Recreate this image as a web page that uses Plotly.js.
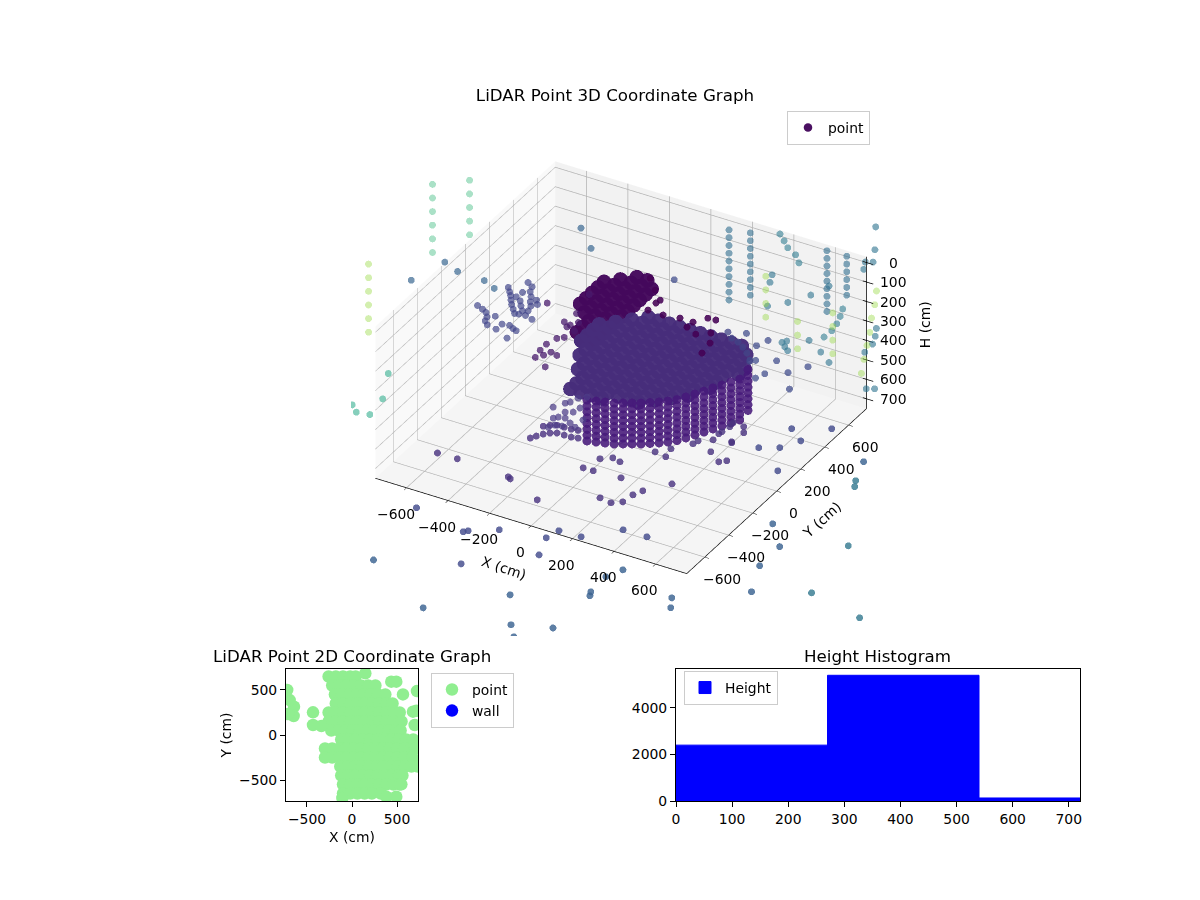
<!DOCTYPE html>
<html>
<head>
<meta charset="utf-8">
<script src="https://cdn.plot.ly/plotly-3.0.1.min.js"></script>
<style>body{margin:0;background:#fff}</style>
</head>
<body>
<div id="chart" style="width:1200px;height:900px"></div>
<script>
// ---- 3D points as [x, y, h] in cm ----
var floorPurple = [[-588,-514,700],[-493,-512,700],[-238,-529,700],[-223,-538,700],[-43,-625,700],[-3,-311,700],[45,-310,700],[22,-214,700],[65,-181,700],[176,-480,700],[235,-491,700],[173,-300,700],[106,-193,700],[274,-460,700],[283,-391,700],[303,-343,700],[381,-235,700],[252,-63,700],[194,-52,700],[239,2,700],[395,65,700],[463,13,700],[488,37,700],[431,176,700],[356,151,700],[306,113,700],[299,82,700],[356,225,700],[353,204,700],[439,263,700],[435,170,700],[415,304,700],[365,275,700],[361,309,700]];
var floorIndigo = [[-448,-931,700],[-185,-997,700],[-171,-980,700],[-62,-908,700],[139,-865,700],[157,-790,700],[261,-785,700],[180,-996,700],[-66,-1220,700],[385,-650,700],[499,-648,700],[552,193,700],[628,237,700],[712,75,700],[596,391,700],[677,327,700],[741,474,700]];
var floorBlue = [[-398,-1376,700],[233,-1329,700],[-30,-1599,700],[354,-1531,700],[518,-1465,700],[412,-1607,700],[513,-1140,700],[525,-1169,700],[508,-1006,700],[542,-923,700],[902,-297,700],[1017,-438,700],[1020,-610,700],[1093,-804,700],[829,-1012,700],[864,-1082,700],[986,316,700]];
var floorTeal = [[1314,-686,700],[1262,-289,700],[1586,-756,700],[1032,170,700],[1052,127,700]];
var leftCluster = [[-763,124,360],[-731,109,360],[-705,94,360],[-684,66,360],[-675,35,360],[-652,12,360],[-657,88,360],[-601,48,360],[-569,55,360],[-544,41,360],[-524,32,360],[-528,-37,360],[-603,1,360],[-723,311,360],[-701,284,360],[-683,261,360],[-663,230,360],[-644,202,360],[-620,173,360],[-598,147,360],[-580,151,360],[-652,307,360],[-657,264,360],[-627,244,360],[-605,212,360],[-580,181,360],[-551,156,360],[-559,192,360],[-512,143,360],[-671,386,360],[-640,365,360],[-626,327,360],[-604,295,360],[-587,259,360],[-568,231,360],[-571,283,360],[-551,256,360]];
var leftBlue = [[-837,308,360],[-770,275,360],[-1102,158,360],[-1052,351,360],[-969,314,360],[-694,867,360],[-578,750,360]];
var leftTeal = [[-818,-526,360],[-738,-711,360],[-825,-815,360],[-781,-856,360],[-723,-844,360]];
var purpleCluster = [[-350,-109,360],[-361,-50,360],[-329,-77,360],[-362,4,360],[-314,-41,360],[-280,-51,360],[-277,-153,360],[-347,65,360],[-324,87,360],[-356,165,360],[-385,193,360],[-351,184,360],[-312,152,360],[-374,276,360],[-332,219,360],[-403,432,360],[-521,286,360]];
var rightPurple = [[-154,710,360],[318,495,360],[424,492,360],[403,432,360],[535,371,360],[672,396,360],[623,314,360],[543,258,360],[527,209,360],[693,205,360],[437,318,360],[458,330,360]];
var topDark = [[-128,513,360],[-55,446,360],[18,460,360],[81,460,360],[119,518,360],[155,522,360],[79,414,360],[138,384,360],[188,423,360],[225,353,360],[235,268,360],[-247,670,360],[-182,599,360],[-124,541,360],[-129,448,360]];
var coreEdge = [[246,465,360],[284,432,360],[322,418,360],[359,394,360],[397,362,360],[439,313,360]];
var steelBlue = [[346,792,360],[400,890,360],[430,990,360],[482,508,360],[494,527,360],[509,484,360],[535,463,360],[572,578,360],[660,523,360],[731,469,360],[180,948,360],[202,892,360],[287,725,360],[820,613,360],[816,685,360],[795,744,360],[768,800,360],[969,367,360],[999,385,360],[467,1229,360],[490,1176,360],[495,1245,360],[453,1333,360],[366,1490,360]];
var slantColumnC = [[48,1242,360],[90,1204,360],[130,1165,360],[186,1133,360],[230,1085,360],[570,862,360],[590,806,360],[607,749,360],[616,691,360],[613,632,360]];
var limeSlant = [[621,1055,360],[669,958,360],[710,860,360],[760,759,360],[801,665,360],[845,563,360],[891,462,360]];
var ribbonTip = [[-204,-404,560],[-190,-378,560],[-173,-350,560],[-152,-329,560],[-127,-314,560],[-93,-313,560],[-60,-312,560],[-31,-305,560],[-173,-350,520],[-152,-329,520],[-127,-314,520],[-93,-313,520],[-60,-312,520],[-31,-305,520]];
var looseUnderCore = [[-90,-411,360],[-62,-359,360],[-48,-341,360],[-35,-298,360],[-7,-272,360],[-27,-420,360],[2,-403,360],[11,-361,360],[-32,-468,360],[-3,-461,360],[-46,-486,360],[-29,-558,360],[-12,-530,360],[17,-522,360],[68,-502,360],[34,-484,360],[69,-437,360]];

// vertical scan columns: one x, y position and its heights
var blueColumnX = [47, 136, 483, 576];
var blueColumnY = [819, 843, 881, 885];
var blueColumnH = [
  [100,140,180,220,260,300,340,380,420,460],
  [100,140,180,220,260,300,340,380,420],
  [100,139,178,217,256,295,334,373,412],
  [100,140,180,220,260,300]
];
var mintColumnX = [-1127, -1009];
var mintColumnY = [378, 483];
var mintColumnH = [[0,70,140,210,280,350],[0,70,140,210,280]];
var paleColumnX = [-1044, 439, 732, 825];
var paleColumnY = [-299, 447, 205, 337];
var paleColumnH = [[0,70,140,210,280,350],[0,70,140,210],[0,70,140],[0,70,140,210]];

// the ring seen at the front of the main mass
var ribbonX = [-3,34,70,107,139,171,204,234,265,293,320,342,363,384,404,425,446,466,458];
var ribbonY = [-279,-267,-255,-243,-224,-205,-187,-164,-142,-117,-88,-52,-13,26,66,105,144,183,265];
var ribbonH = [580,550,520,490,460,430,400,370];

// main mass at h = 360: y of a row, then the x values of that row
var coreRowY = [400,350,300,250,200,150,100,50,0,-50,-100,-150,-200,-250];
var coreRowX = [
  [-100,-50,0,50,100,150,200,250,300,350],
  [-150,-100,-50,0,50,100,150,200,250,300,350,400],
  [-200,-150,-100,-50,0,50,100,150,200,250,300,350,400],
  [-250,-200,-150,-100,-50,0,50,100,150,200,250,300,350,400,450],
  [-250,-200,-150,-100,-50,0,50,100,150,200,250,300,350,400,450],
  [-250,-200,-150,-100,-50,0,50,100,150,200,250,300,350,400],
  [-250,-200,-150,-100,-50,0,50,100,150,200,250,300,350,400],
  [-200,-150,-100,-50,0,50,100,150,200,250,300,350,400],
  [-200,-150,-100,-50,0,50,100,150,200,250,300,350],
  [-150,-100,-50,0,50,100,150,200,250,300,350],
  [-150,-100,-50,0,50,100,150,200,250,300],
  [-100,-50,0,50,100,150,200,250],
  [-100,-50,0,50,100,150,200],
  [-100,-50,0,50]
];
var darkRowY = [100,150,200,250,300,350,400,450,500,550,600,650];
var darkRowX = [
  [-250,-200],
  [-300,-250,-200],
  [-300,-250,-200],
  [-300,-250,-200],
  [-350,-300,-250,-200],
  [-400,-350,-300,-250,-200],
  [-400,-350,-300,-250,-200],
  [-400,-350,-300,-250,-200],
  [-400,-350,-300,-250,-200],
  [-400,-350,-300,-250,-200],
  [-350,-300,-250,-200],
  [-300,-250]
];
var coreHeight = 360;

// ---- 2D panel ----
var flatRowY = [650,550,450,350,250,150,50,-50,-150,-250,-350,-450,-550,-650];
var flatRowX = [
  [-260,-180,-100,-20,40],
  [-220,-140,-60,20,100,180,260],
  [-190,-110,-30,50,130,210,290,370],
  [-180,-100,-20,60,140,220,300,380,450],
  [-260,-180,-100,-20,60,140,220,300,380,460,530],
  [-260,-180,-100,-20,60,140,220,300,380,460,550],
  [-230,-150,-70,10,90,170,250,330,410,490,540],
  [-120,-40,40,120,200,280,360,440,520,600,680],
  [-300,-220,-140,-60,20,100,180,260,340,420,500,580,660,700],
  [-300,-220,-140,-60,20,100,180,260,340,420,500,580,670],
  [-130,-50,30,110,190,270,350,430,510,590,660,730],
  [-120,-40,40,120,200,280,360,440,520,560],
  [-100,-20,60,140,220,300,380,460,530],
  [-100,-20,60,140,220,320]
];
var flatLooseX = [148,-107,381,492,436,492,566,721,677,714,696,548,-433,-433,-340,-644,-692,-720,-648,-710];
var flatLooseY = [685,-700,-685,-685,592,592,451,488,259,270,111,-548,252,111,100,315,388,500,211,233];

// ---- histogram ----
var binStart = [0, 270, 540];
var binWidth = [270, 270, 270];
var binCount = [2400, 5400, 130];

var xyTicks = [-600,-400,-200,0,200,400,600];
var hTicks = [0,100,200,300,400,500,600,700];

var FS = 13.9;
var eye = {x:0.424*2, y:-0.734*2, z:0.53*2};
var cam = {eye:eye, up:{x:0,y:0,z:1}, center:{x:0,y:0,z:0}, projection:{type:'orthographic'}};

function boxAxis(range, dtick, bg, isH){
  return {title:{text:''}, range:range, dtick:dtick, showspikes:false, showticklabels:false,
    showbackground:true, backgroundcolor:bg, gridcolor:'#b2b2b2', gridwidth:1.5, zeroline:false,
    showline:!isH, linecolor:'#000', linewidth:1.5, ticks:isH?'':'outside', ticklen:5, tickcolor:'#000'};
}
function hidden(range){ return {range:range, visible:false, showspikes:false}; }

function cloud(points, color, size, opacity){
  return {type:'scatter3d', scene:'scene2', mode:'markers', name:'point', legendgroup:'point', showlegend:false, hoverinfo:'skip',
    x:points.map(function(p){return p[0];}), y:points.map(function(p){return p[1];}), z:points.map(function(p){return p[2];}),
    marker:{size:size, color:color, opacity:opacity, line:{width:0}}};
}
function fromColumns(cx, cy, ch){
  var out = [];
  cx.forEach(function(v,i){ ch[i].forEach(function(h){ out.push([v, cy[i], h]); }); });
  return out;
}
function fromRows(rowY, rowX, h){
  var out = [];
  rowY.forEach(function(v,i){ rowX[i].forEach(function(x){ out.push([x, v, h]); }); });
  return out;
}
function ribbonPoints(){
  var out = [];
  ribbonX.forEach(function(v,i){ ribbonH.forEach(function(h){ out.push([v, ribbonY[i], h]); }); });
  return out;
}

var dark = cloud(fromRows(darkRowY, darkRowX, coreHeight), '#44085c', 8.5, 0.97);
dark.showlegend = true;
dark.legend = 'legend';

var zLineX = [750,750], zLineY = [750,750], zLineH = [-30,750];
hTicks.forEach(function(h){ zLineX.push(null,732,782); zLineY.push(null,750,750); zLineH.push(null,h,h); });

var flatX = [], flatY = [];
flatRowY.forEach(function(v,i){ flatRowX[i].forEach(function(x){ flatX.push(x); flatY.push(v); }); });
flatX = flatX.concat(flatLooseX); flatY = flatY.concat(flatLooseY);

var data = [
  {type:'scatter3d', scene:'scene', x:[0], y:[0], z:[360], mode:'markers', showlegend:false, hoverinfo:'skip', marker:{size:1,opacity:0}},
  {type:'scatter3d', scene:'scene2', x:zLineX, y:zLineY, z:zLineH, mode:'lines', showlegend:false, hoverinfo:'skip', line:{color:'#000',width:1.5}, connectgaps:false},
  dark,
  cloud(fromRows(coreRowY, coreRowX, coreHeight), '#472d7b', 8.5, 0.97),
  cloud(ribbonPoints(), '#46197a', 5.2, 0.88),
  cloud(ribbonTip, '#48307f', 4, 0.8),
  cloud(looseUnderCore, '#4d3d88', 4, 0.72),
  cloud(floorPurple, '#47317e', 4, 0.8),
  cloud(floorIndigo, '#434b8c', 4, 0.82),
  cloud(floorBlue, '#3b6391', 4, 0.82),
  cloud(floorTeal, '#32788e', 4, 0.8),
  cloud(leftCluster, '#3f4389', 4, 0.68),
  cloud(leftBlue, '#33638d', 4, 0.68),
  cloud(leftTeal, '#22a884', 4, 0.55),
  cloud(purpleCluster, '#481a6c', 4, 0.75),
  cloud(rightPurple, '#3d4a89', 4, 0.72),
  cloud(topDark, '#440154', 4, 0.88),
  cloud(coreEdge, '#414487', 4, 0.75),
  cloud(steelBlue, '#2c728e', 4, 0.6),
  cloud(slantColumnC, '#2a788e', 4, 0.58),
  cloud(limeSlant, '#95d840', 4, 0.42),
  cloud(fromColumns(blueColumnX, blueColumnY, blueColumnH), '#2f6c8e', 4, 0.6),
  cloud(fromColumns(mintColumnX, mintColumnY, mintColumnH), '#35b779', 4, 0.42),
  cloud(fromColumns(paleColumnX, paleColumnY, paleColumnH), '#95d840', 4, 0.42),
  {type:'scatter', xaxis:'x', yaxis:'y', x:flatX, y:flatY, mode:'markers', name:'point', legend:'legend2', cliponaxis:true, hoverinfo:'skip',
    marker:{color:'lightgreen', size:12.5, line:{width:0}}},
  {type:'scatter', xaxis:'x', yaxis:'y', x:[null], y:[null], mode:'markers', name:'wall', legend:'legend2',
    marker:{color:'blue', size:12.5, line:{width:0}}},
  {type:'bar', xaxis:'x2', yaxis:'y2', x:binStart, y:binCount, width:binWidth, offset:0, name:'Height', legend:'legend3', hoverinfo:'skip',
    marker:{color:'blue', line:{width:1,color:'blue'}}}
];

var labels = [];
function label(x, y, z, text, xs, ys, angle){
  labels.push({x:x, y:y, z:z, text:text, showarrow:false, xshift:xs, yshift:ys, textangle:angle||0,
    xanchor:'center', yanchor:'middle', font:{size:FS, color:'#000', family:'DejaVu Sans'}});
}
function minusText(v){ return v < 0 ? '\u2212' + (-v) : String(v); }
xyTicks.forEach(function(t){ label(t, -750, 750, minusText(t), -11, -26); });
xyTicks.forEach(function(t){ label(750, t, 750, minusText(t), 17, -22); });
hTicks.forEach(function(t){ label(750, 750, t, String(t), 27, 0); });
label(0, -750, 750, 'X (cm)', -27, -42, 18);
label(750, 0, 750, 'Y (cm)', 45, -29, -42);
label(750, 750, 360, 'H (cm)', 58, 8, -90);

function flatAxis(extra){
  var a = {mirror:true, showline:true, linecolor:'#000', linewidth:1.1, ticks:'outside', ticklen:5, tickcolor:'#000', tickwidth:1.1,
    showgrid:false, zeroline:false, tickfont:{size:FS, color:'#000'}};
  for (var k in extra) a[k] = extra[k];
  return a;
}
function panelTitle(text, x){
  return {xref:'paper', yref:'paper', x:x/1200, y:1-656/900, text:text, showarrow:false, xanchor:'center', yanchor:'middle',
    font:{size:16.7, color:'#000'}};
}
function legendBox(x, y){
  return {x:x/1200, y:1-y/900, xanchor:'left', yanchor:'top', bgcolor:'rgba(255,255,255,0.8)', bordercolor:'#ccc', borderwidth:1,
    font:{size:FS, color:'#000'}};
}

var layout = {
  width:1200, height:900, margin:{l:0,r:0,t:0,b:0}, paper_bgcolor:'#fff', plot_bgcolor:'#fff', showlegend:true,
  font:{family:'DejaVu Sans', size:FS, color:'#000'},
  title:{text:'LiDAR Point 3D Coordinate Graph', x:615/1200, xanchor:'center', y:1-95/900, yanchor:'middle', font:{size:16.7, color:'#000'}},
  annotations:[panelTitle('LiDAR Point 2D Coordinate Graph', 352), panelTitle('Height Histogram', 877)],
  scene:{domain:{x:[0.1425,0.8925],y:[0.2933,0.89]}, camera:cam, aspectmode:'manual', aspectratio:{x:1.339,y:1.339,z:0.667},
    xaxis:boxAxis([-750,750],200,'#f9f9f9',false), yaxis:boxAxis([-750,750],200,'#f2f2f2',false), zaxis:boxAxis([750,-30],100,'#f5f5f5',true),
    annotations:labels},
  scene2:{domain:{x:[0.2925,0.7425],y:[0.2933,0.89]}, camera:cam, aspectmode:'manual', aspectratio:{x:5.356,y:5.356,z:2.668}, bgcolor:'rgba(0,0,0,0)',
    xaxis:hidden([-3000,3000]), yaxis:hidden([-3000,3000]), zaxis:hidden([1920,-1200])},
  xaxis:flatAxis({domain:[286/1200,418/1200], anchor:'y', range:[-733,733], tickvals:[-500,0,500], ticktext:['\u2212500','0','500'], title:{text:'X (cm)', standoff:6, font:{size:FS, color:'#000'}}}),
  yaxis:flatAxis({domain:[99/900,231/900], anchor:'x', range:[-733,733], tickvals:[-500,0,500], ticktext:['\u2212500','0','500'], title:{text:'Y (cm)', standoff:4, font:{size:FS, color:'#000'}}}),
  xaxis2:flatAxis({domain:[676/1200,1080/1200], anchor:'y2', range:[0,720], dtick:100}),
  yaxis2:flatAxis({domain:[99/900,231/900], anchor:'x2', range:[0,5670], tickvals:[0,2000,4000]}),
  legend:legendBox(787,111),
  legend2:legendBox(431,673),
  legend3:legendBox(684,671)
};
Plotly.newPlot('chart', data, layout, {displayModeBar:false});
</script>
</body>
</html>
